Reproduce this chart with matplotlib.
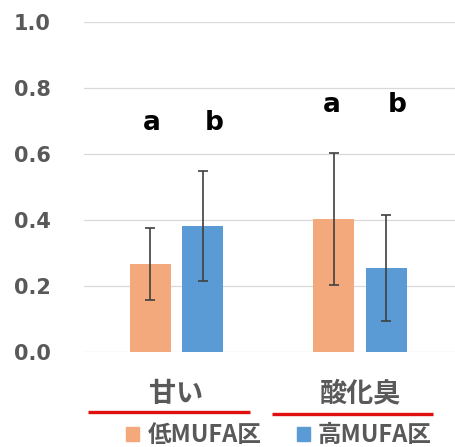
import numpy as np
import matplotlib
matplotlib.use("Agg")
import matplotlib.pyplot as plt
from matplotlib.patches import Patch
import matplotlib.transforms as mtransforms

plt.rcParams['font.family'] = ['Noto Sans CJK JP', 'DejaVu Sans']

# data
categories = ["甘い", "酸化臭"]
series = ["低MUFA区", "高MUFA区"]
low_mufa = [0.267, 0.403]
high_mufa = [0.382, 0.255]
low_err = [0.108, 0.200]
high_err = [0.168, 0.160]
sig_low = ["a", "a"]
sig_high = ["b", "b"]
sig_y = [0.673, 0.728]

col_low = "#F4A97C"
col_high = "#5B9BD5"
txt_gray = "#595959"

fig = plt.figure(figsize=(4.56, 4.47), dpi=100)
ax = fig.add_axes([0.184, 0.2125, 0.816, 0.7383])

x = np.arange(len(categories))
w = 0.223
off = 0.143

ax.bar(x - off, low_mufa, w, color=col_low, zorder=2)
ax.bar(x + off, high_mufa, w, color=col_high, zorder=2)
ax.errorbar(x - off, low_mufa, yerr=low_err, fmt="none", ecolor="#404040",
            elinewidth=1.2, capsize=3.5, capthick=1.2, zorder=3)
ax.errorbar(x + off, high_mufa, yerr=high_err, fmt="none", ecolor="#404040",
            elinewidth=1.2, capsize=3.5, capthick=1.2, zorder=3)

# significance letters
for i in range(len(categories)):
    ax.text(x[i] - off + 0.01 - 0.02 * i, sig_y[i], sig_low[i], ha="center", va="baseline",
            fontsize=19, fontweight="bold", family="DejaVu Sans")
    ax.text(x[i] + off + 0.06, sig_y[i], sig_high[i], ha="center", va="baseline",
            fontsize=19, fontweight="bold", family="DejaVu Sans")

ax.set_xlim(-0.504, 1.523)
ax.set_ylim(0, 1.0)
ax.set_yticks(np.arange(0, 1.01, 0.2))
ax.set_yticklabels([f"{v:.1f}" for v in np.arange(0, 1.01, 0.2)],
                   fontsize=15, fontweight="bold", color=txt_gray, family="DejaVu Sans")
ax.tick_params(axis="y", length=0, pad=24)
ax.set_xticks(x)
ax.set_xticklabels(categories, fontsize=19.5, fontweight="bold", color=txt_gray)
ax.tick_params(axis="x", length=0, pad=20)
ax.grid(axis="y", color="#d9d9d9", linewidth=0.9, zorder=0)
for s in ax.spines.values():
    s.set_visible(False)

# red underlines under category labels
trans = mtransforms.blended_transform_factory(ax.transData, fig.transFigure)
line_y = [0.079, 0.074]
for i in range(len(categories)):
    ax.plot([x[i] - 0.482, x[i] + 0.40], [line_y[i], line_y[i]], color="#E01010", lw=2.4,
            transform=trans, clip_on=False, solid_capstyle="butt")

handles = [Patch(color=col_low), Patch(color=col_high)]
fig.legend(handles, series, loc="center", bbox_to_anchor=(0.612, 0.026), ncol=2,
           frameon=False, handlelength=0.55, handleheight=0.55,
           handletextpad=0.35, columnspacing=1.5, labelcolor=txt_gray,
           prop={"size": 17, "weight": "bold"})

fig.savefig("out.png", dpi=100)
